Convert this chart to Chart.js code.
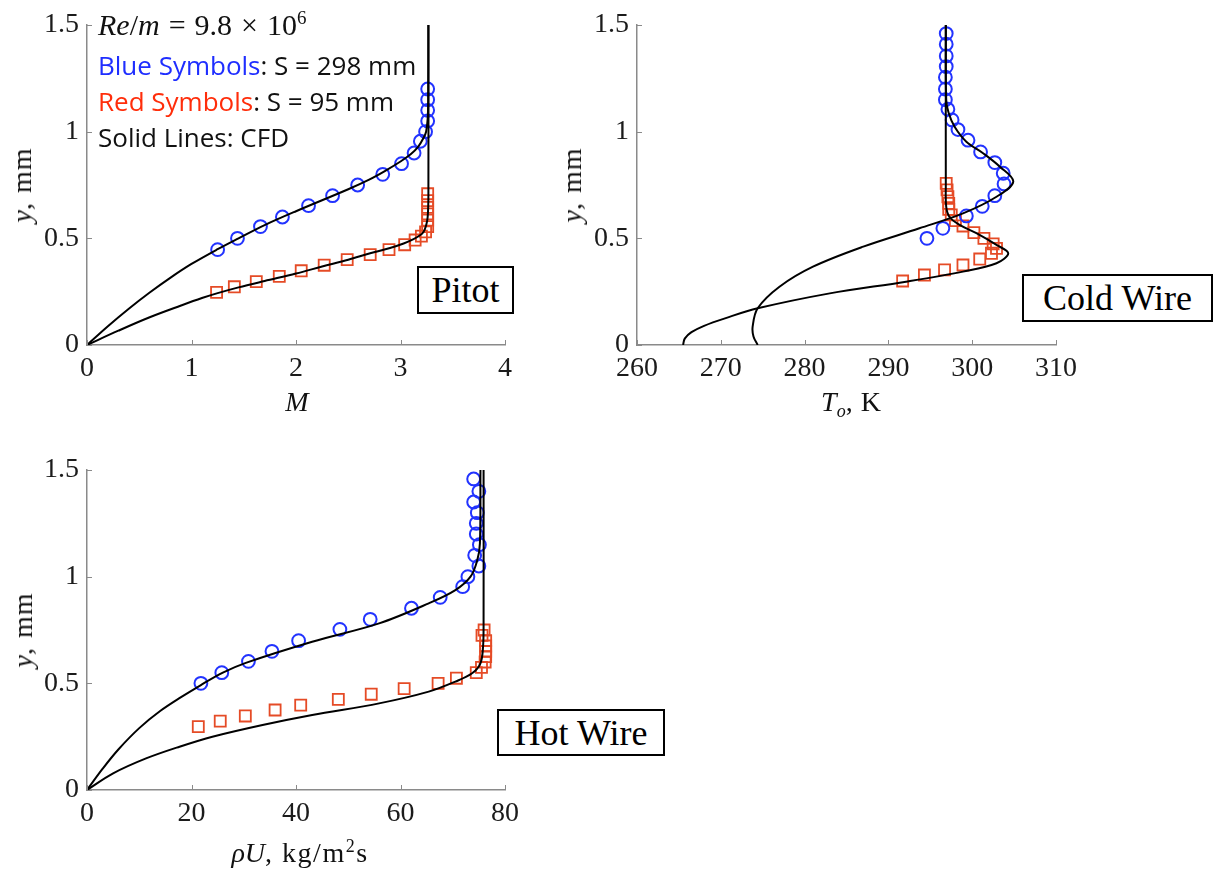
<!DOCTYPE html>
<html>
<head>
<meta charset="utf-8">
<title>Boundary layer profiles: Pitot, Cold Wire, Hot Wire</title>
<script src="https://cdn.jsdelivr.net/npm/chart.js@4.4.1/dist/chart.umd.min.js"></script>
<style>
  html, body { margin: 0; padding: 0; background: #fff; }
  #stage { position: relative; width: 1221px; height: 871px; overflow: hidden; background: #fff; }
  .panel { position: absolute; }
  .txt { position: absolute; white-space: nowrap; color: #111; line-height: 1; }
  .serif { font-family: "Liberation Serif", "DejaVu Serif", serif; }
  .sans { font-family: "Open Sans", Lato, sans-serif; }
  .ytitle { transform: translate(-50%, -50%) rotate(-90deg); font-size: 28px; }
  .xtitle { transform: translate(-50%, -50%); font-size: 28px; }
  .op { margin: 0 9px; }
  .tag {
    position: absolute; box-sizing: border-box; border: 2px solid #000; background: #fff;
    display: flex; align-items: center; justify-content: center;
    font-family: "Liberation Serif", serif; font-size: 36px; color: #000;
  }
</style>
</head>
<body>
<div id="stage">
  <div class="panel" style="left:0;top:0;"><canvas id="pitot-chart" width="540" height="430"></canvas></div>
  <div class="panel" style="left:550px;top:0;"><canvas id="cold-chart" width="540" height="430"></canvas></div>
  <div class="panel" style="left:0;top:445px;"><canvas id="hot-chart" width="540" height="420"></canvas></div>

  <!-- annotation text -->
  <div class="txt serif" style="left:98px;top:8px;font-size:30px;"><i>Re</i>/<i>m</i><span class="op">=</span>9.8<span class="op">×</span>10<sup style="font-size:19px;vertical-align:11px;">6</sup></div>
  <div class="txt sans" style="left:98px;top:52px;font-size:26px;"><span style="color:#1f2eff">Blue Symbols</span>: S = 298 mm</div>
  <div class="txt sans" style="left:98px;top:88px;font-size:26px;"><span style="color:#ff2d0a">Red Symbols</span>: S = 95 mm</div>
  <div class="txt sans" style="left:98px;top:124px;font-size:26px;">Solid Lines: CFD</div>

  <div class="tag" style="left:417px;top:266px;width:97px;height:48px;">Pitot</div>
  <div class="tag" style="left:1022px;top:274px;width:191px;height:48px;">Cold Wire</div>
  <div class="tag" style="left:497px;top:709px;width:168px;height:47px;">Hot Wire</div>

  <!-- axis titles -->
  <div class="txt serif ytitle" style="left:22px;top:185px;"><i>y</i>,<span style="margin-left:10px;letter-spacing:1px;">mm</span></div>
  <div class="txt serif xtitle" style="left:297px;top:402px;"><i>M</i></div>
  <div class="txt serif ytitle" style="left:572px;top:185px;"><i>y</i>,<span style="margin-left:10px;letter-spacing:1px;">mm</span></div>
  <div class="txt serif xtitle" style="left:851px;top:404px;"><i>T</i><sub style="font-size:18px;"><i>o</i></sub>,<span style="margin-left:8px;">K</span></div>
  <div class="txt serif ytitle" style="left:23px;top:630px;"><i>y</i>,<span style="margin-left:10px;letter-spacing:1px;">mm</span></div>
  <div class="txt serif xtitle" style="left:300px;top:852px;"><i>ρU</i>,<span style="margin-left:10px;letter-spacing:1.5px;">kg/m<sup style="font-size:18px;vertical-align:10px;">2</sup>s</span></div>
</div>

<script>
// ── Pitot: Mach number vs y (mm) ─────────────────────────────
const pitotBlueM = [1.25, 1.44, 1.66, 1.87, 2.12, 2.35, 2.59, 2.83, 3.01, 3.13, 3.19, 3.24, 3.26, 3.26, 3.26, 3.26];
const pitotBlueY = [0.447, 0.50, 0.555, 0.60, 0.653, 0.70, 0.75, 0.80, 0.85, 0.90, 0.955, 1.0, 1.05, 1.10, 1.15, 1.20];
const pitotRedM = [1.24, 1.41, 1.62, 1.84, 2.05, 2.27, 2.49, 2.71, 2.89, 3.04, 3.14, 3.20, 3.24, 3.26, 3.26, 3.26, 3.26, 3.26, 3.26];
const pitotRedY = [0.247, 0.273, 0.297, 0.322, 0.348, 0.374, 0.40, 0.424, 0.447, 0.47, 0.492, 0.51, 0.53, 0.555, 0.585, 0.615, 0.645, 0.677, 0.709];
const pitotCfdBlueM = [0, 0.2, 0.4, 0.6, 0.8, 1.0, 1.25, 1.45, 1.7, 2.0, 2.5, 2.7, 2.85, 3.0, 3.1, 3.17, 3.22, 3.245, 3.26, 3.265, 3.267];
const pitotCfdBlueY = [0, 0.088, 0.17, 0.246, 0.316, 0.38, 0.449, 0.500, 0.562, 0.627, 0.73, 0.775, 0.815, 0.86, 0.895, 0.93, 0.97, 1.0, 1.06, 1.15, 1.5];
const pitotCfdRedM = [0, 0.3, 0.6, 0.9, 1.1, 1.25, 1.45, 1.7, 2.0, 2.25, 2.5, 2.71, 2.9, 3.03, 3.12, 3.18, 3.22, 3.245, 3.26, 3.267, 3.267];
const pitotCfdRedY = [0, 0.067, 0.13, 0.185, 0.22, 0.243, 0.27, 0.30, 0.335, 0.368, 0.40, 0.43, 0.455, 0.476, 0.495, 0.512, 0.53, 0.56, 0.6, 0.7, 1.5];

// ── Cold wire: total temperature (K) vs y (mm) ───────────────
const coldBlueT = [296.9, 296.9, 296.9, 296.9, 296.8, 296.8, 296.8, 297.1, 297.6, 298.3, 299.5, 301.0, 302.7, 303.7, 303.8, 302.7, 301.2, 299.3, 296.5, 294.6];
const coldBlueY = [1.46, 1.41, 1.355, 1.305, 1.255, 1.20, 1.15, 1.105, 1.055, 1.01, 0.96, 0.905, 0.855, 0.805, 0.755, 0.70, 0.65, 0.605, 0.547, 0.50];
const coldRedT = [296.9, 297.0, 297.1, 297.2, 297.2, 297.5, 298.0, 298.9, 300.2, 301.4, 302.5, 302.9, 302.3, 300.9, 298.9, 296.7, 294.3, 291.7];
const coldRedY = [0.758, 0.727, 0.695, 0.664, 0.636, 0.61, 0.583, 0.558, 0.527, 0.50, 0.474, 0.453, 0.43, 0.403, 0.375, 0.352, 0.328, 0.30];
const coldCfdBlueT = [274.4, 273.9, 273.8, 274.4, 277.0, 281.0, 287.0, 293.7, 298.9, 302.9, 304.9, 303.3, 301.3, 299.3, 297.9, 297.2, 296.9, 296.85];
const coldCfdBlueY = [0, 0.04, 0.086, 0.172, 0.273, 0.367, 0.461, 0.547, 0.617, 0.695, 0.766, 0.836, 0.899, 0.953, 1.023, 1.086, 1.148, 1.5];
const coldCfdRedT = [265.5, 265.7, 266.5, 268.0, 270.5, 274.4, 283.0, 292.1, 298.9, 302.9, 304.3, 302.9, 300.5, 298.5, 297.3, 296.9, 296.85, 296.85];
const coldCfdRedY = [0, 0.03, 0.06, 0.09, 0.125, 0.172, 0.242, 0.297, 0.344, 0.383, 0.43, 0.469, 0.524, 0.563, 0.60, 0.648, 0.75, 1.5];

// ── Hot wire: mass flux (kg/m^2 s) vs y (mm) ─────────────────
const hotBlueRu = [21.8, 25.8, 30.9, 35.4, 40.5, 48.4, 54.2, 62.1, 67.6, 71.9, 72.9, 75.0, 74.2, 75.1, 74.5, 74.5, 74.7, 74.0, 75.0, 74.0];
const hotBlueY = [0.50, 0.55, 0.603, 0.65, 0.70, 0.753, 0.80, 0.852, 0.903, 0.953, 1.0, 1.05, 1.10, 1.15, 1.20, 1.25, 1.30, 1.35, 1.40, 1.458];
const hotRedRu = [21.3, 25.5, 30.3, 36.0, 40.9, 48.1, 54.4, 60.7, 67.2, 70.7, 74.5, 75.5, 76.2, 76.3, 76.3, 76.3, 76.3, 75.6, 76.0];
const hotRedY = [0.297, 0.323, 0.347, 0.375, 0.398, 0.425, 0.449, 0.475, 0.50, 0.524, 0.55, 0.575, 0.60, 0.625, 0.65, 0.675, 0.70, 0.725, 0.75];
const hotCfdBlueRu = [0, 3, 6, 10, 14, 18, 21.8, 26, 30.4, 43.1, 55.9, 65.4, 70.5, 73.4, 74.7, 75.2, 75.3];
const hotCfdBlueY = [0, 0.1, 0.19, 0.29, 0.37, 0.435, 0.492, 0.55, 0.596, 0.695, 0.781, 0.875, 0.937, 1.0, 1.078, 1.156, 1.5];
const hotCfdRedRu = [0, 5.0, 11.3, 17.7, 24.0, 33.6, 43.1, 55.9, 65.4, 70.5, 73.7, 75.3, 75.8, 75.9, 75.9];
const hotCfdRedY = [0, 0.078, 0.148, 0.203, 0.25, 0.305, 0.352, 0.406, 0.461, 0.508, 0.547, 0.594, 0.672, 0.8, 1.5];

const yTicks = [0, 0.5, 1, 1.5];

const AXIS_GRAY = '#8a8a8a';
const LABEL_COLOR = '#1b1b1b';
const BLUE = '#2233ff';
const RED = '#e54b26';

function zip(xs, ys) {
    return xs.map((x, i) => ({ x, y: ys[i] }));
}

/**
 * Inward tick marks, MATLAB style
 */
const inwardTicks = {
    id: 'inwardTicks',
    afterDraw(chart) {
        const { ctx, chartArea, scales: { x, y } } = chart;
        ctx.save();
        ctx.strokeStyle = AXIS_GRAY;
        ctx.lineWidth = 1;
        x.ticks.forEach(t => {
            const px = Math.round(x.getPixelForValue(t.value)) + 0.5;
            ctx.beginPath();
            ctx.moveTo(px, chartArea.bottom);
            ctx.lineTo(px, chartArea.bottom - 5);
            ctx.stroke();
        });
        y.ticks.forEach(t => {
            const py = Math.round(y.getPixelForValue(t.value)) + 0.5;
            ctx.beginPath();
            ctx.moveTo(chartArea.left, py);
            ctx.lineTo(chartArea.left + 5, py);
            ctx.stroke();
        });
        ctx.restore();
    }
};

function cfdLine(points) {
    return {
        data: points, showLine: true, borderColor: '#000', borderWidth: 2,
        pointRadius: 0, tension: 0.35, fill: false, order: 0
    };
}

function symbols(points, color, style) {
    return {
        data: points, showLine: false, pointStyle: style,
        pointRadius: style === 'rect' ? 7.8 : 6.4,
        borderColor: color, backgroundColor: 'rgba(0,0,0,0)',
        pointBorderWidth: style === 'rect' ? 1.8 : 2, order: 1
    };
}

function makePanel(id, p) {
    const tickFont = { family: '"Liberation Serif", "DejaVu Serif", serif', size: 28 };
    return new Chart(document.getElementById(id), {
        type: 'scatter',
        data: {
            datasets: [
                cfdLine(p.cfdBlue),
                cfdLine(p.cfdRed),
                symbols(p.blue, BLUE, 'circle'),
                symbols(p.red, RED, 'rect')
            ]
        },
        plugins: [inwardTicks],
        options: {
            responsive: false,
            animation: false,
            events: [],
            layout: { padding: { top: 25, right: p.padRight, left: 0, bottom: 0 } },
            plugins: { legend: { display: false }, tooltip: { enabled: false } },
            scales: {
                x: {
                    type: 'linear', min: p.xMin, max: p.xMax,
                    afterBuildTicks: s => { s.ticks = p.xTicks.map(v => ({ value: v })); },
                    ticks: { font: tickFont, color: LABEL_COLOR, padding: 7, maxRotation: 0, callback: v => String(v) },
                    grid: { drawOnChartArea: false, drawTicks: false },
                    border: { color: AXIS_GRAY, width: 1.5 },
                    afterFit: s => { s.height = p.xHeight; }
                },
                y: {
                    type: 'linear', min: 0, max: 1.5,
                    afterBuildTicks: s => { s.ticks = yTicks.map(v => ({ value: v })); },
                    ticks: { font: tickFont, color: LABEL_COLOR, padding: 8, callback: v => String(v) },
                    grid: { drawOnChartArea: false, drawTicks: false },
                    border: { color: AXIS_GRAY, width: 1.5 },
                    afterFit: s => { s.width = 87; }
                }
            }
        }
    });
}

makePanel('pitot-chart', {
    blue: zip(pitotBlueM, pitotBlueY), red: zip(pitotRedM, pitotRedY),
    cfdBlue: zip(pitotCfdBlueM, pitotCfdBlueY), cfdRed: zip(pitotCfdRedM, pitotCfdRedY),
    xMin: 0, xMax: 4, xTicks: [0, 1, 2, 3, 4], padRight: 35, xHeight: 85
});

makePanel('cold-chart', {
    blue: zip(coldBlueT, coldBlueY), red: zip(coldRedT, coldRedY),
    cfdBlue: zip(coldCfdBlueT, coldCfdBlueY), cfdRed: zip(coldCfdRedT, coldCfdRedY),
    xMin: 260, xMax: 310, xTicks: [260, 270, 280, 290, 300, 310], padRight: 34, xHeight: 85
});

makePanel('hot-chart', {
    blue: zip(hotBlueRu, hotBlueY), red: zip(hotRedRu, hotRedY),
    cfdBlue: zip(hotCfdBlueRu, hotCfdBlueY), cfdRed: zip(hotCfdRedRu, hotCfdRedY),
    xMin: 0, xMax: 80, xTicks: [0, 20, 40, 60, 80], padRight: 35, xHeight: 75
});
</script>
</body>
</html>
